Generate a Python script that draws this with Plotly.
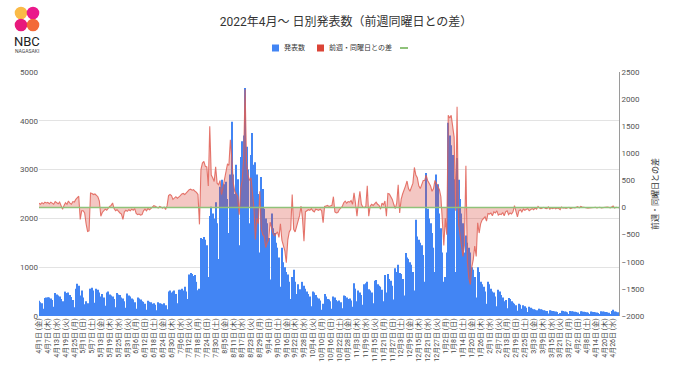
import datetime as dt
import plotly.graph_objects as go

START = dt.date(2022, 4, 1)
WEEKDAYS = ["月", "火", "水", "木", "金", "土", "日"]

# daily announced cases (発表数), by month
apr22 = [310,280,260,150,370,380,385, 380,360,330,190,470,440,420, 400,350,300,200,500,470,480, 430,390,330,180,560,660,620, 420,520]
may22 = [380,240,300,260,200,560,580, 520,270,560,540,480,400,450, 380,210,480,500,440,420,400, 350,180,470,440,430,380,360, 300,170,460]
jun22 = [420,400,360,340,280,150,380, 360,340,300,290,250,130,310, 290,280,250,260,230,120,280, 260,250,240,260,220,140,500, 520,480]
jul22 = [500,520,450,260,540,540,560, 520,600,500,350,850,880,860, 820,840,700,530,560,1600,1580, 1620,1560,1450,800,2050,2240,2100, 2000,2330,1900]
aug22 = [1170,2650,2790,2600,2700,2750,2400, 1700,2900,3980,2900,2500,3100,2800, 1450,3260,3580,3700,4670,3470,3000, 1900,3300,3750,3100,3150,2900,2500, 1300,2850,2600]
sep22 = [2200,2000,1900,1600,750,2100,1800, 1700,1500,1400,1200,600,1400,1100, 1000,900,850,700,350,800,950, 700,450,650,550,300,700,620, 560,500]
oct22 = [450,400,200,500,480,430,380, 360,320,130,250,450,400,350, 340,300,150,400,380,330,300, 320,280,160,420,410,380,350, 360,320,190]
nov22 = [670,560,300,520,480,430,230, 650,670,700,550,520,480,260, 720,740,650,620,600,540,300, 840,480,860,760,720,620,340, 980,900]
dec22 = [1050,880,860,760,420,1290,1200, 1170,1100,1050,900,520,1970,1630, 1560,1500,1450,1250,700,2930,2200, 2000,1900,1700,1400,900,2900,2700, 2100,1800,1300]
jan23 = [700,800,1300,3960,3700,3500,3300, 2800,900,3240,2790,2400,2100,1900, 1300,1650,1500,1400,1300,1000,950, 800,380,1000,900,700,650,600, 500,250,700]
feb23 = [650,560,500,480,400,200,540, 500,430,380,300,330,160,370, 350,300,270,250,220,110,250, 230,150,220,200,170,80,190]
mar23 = [170,150,140,130,120,60,150, 140,130,120,110,100,50,120, 110,100,95,90,80,40,60, 110,100,90,85,75,40,100, 95,90,85]
apr23 = [80,70,35,95,90,85,80, 75,65,30,90,85,80,75, 70,60,35,95,90,85,80, 75,65,35,100,130,90,85, 75,60]

# difference vs same weekday of previous week (前週・同曜日との差), by month
d_apr22 = [80,60,90,70,100,85,95, 70,100,80,60,110,90,70, 100,20,-30,40,90,60,120, 80,60,110,100,150,190,210, -220,-60]
d_may22 = [-60,-100,-300,-440,-430,270,260, 240,250,230,200,120,-160,-90, -60,-30,-50,-10,20,40,85, -20,-60,-40,-80,-100,-120,-220, -80,-50,-70]
d_jun22 = [-40,-60,-30,-50,-20,-110,-130, -120,-140,-130,-60,-30,-60,-20, -40,-20,10,35,25,10,-10, 20,0,-10,10,-35,30,220, 240,220]
d_jul22 = [150,180,200,170,190,220,250, 260,240,280,300,330,340,320, 330,300,280,240,-310,700,820, 850,760,750,400,1500,600,550, 480,750,450]
d_aug22 = [420,500,240,380,560,720,800, 780,1250,900,450,300,250,200, -130,350,500,900,2180,820,600, 500,550,300,0,-590,-200,-300, 300,-400,-500]
d_sep22 = [-530,-740,-650,-600,-270,-400,-480, -520,-480,-450,-550,-300,-600,-700, -800,-1015,-600,-450,-400,240,-400, -450,-350,-200,-150,25,-200,-620, -80,-60]
d_oct22 = [-40,-50,-20,-60,-80,-30,-40, -50,-30,-60,-280,20,30,40, 20,30,40,200,-80,-100,-90, -40,-10,20,90,120,80,110, 100,130,60]
d_nov22 = [270,80,-160,100,300,60,10, 0,20,400,-160,30,60,40, 80,100,60,40,-30,80,50, 120,-160,260,250,200,150,60, -20,80]
d_dec22 = [420,-100,150,250,350,400,490, 350,300,380,450,740,600,550, 400,350,450,500,500,600,500, 450,400,300,350,500,450,400, 330,200,-340]
d_jan23 = [-700,-200,-500,1700,1650,1700,1440, 1300,-60,1860,-300,-500,-800,-900, -700,770,-1000,-1300,-1420,-1100,-960, -710,-900,-280,-470,-300,-230,-200, -170,-250,-110]
d_feb23 = [-120,-100,-150,-80,-100,-60,-140, -120,-130,-90,-150,-80,-60,-130, -100,-120,-80,35,-70,-170,-60, -40,-80,-30,-50,-40,-20,-60]
d_mar23 = [-30,-20,-40,-10,-30,20,-10, -20,-10,5,-15,-20,10,-30, -10,-20,-5,-25,-10,-15,-40, 10,-10,-5,-15,-10,5,-20, -10,0,-5]
d_apr23 = [10,15,-5,20,10,5,-5, 0,-10,-5,-5,-10,0,5, -5,0,5,-5,0,-5,5, 10,5,-5,10,30,-10,5, 0,-5]

counts = apr22 + may22 + jun22 + jul22 + aug22 + sep22 + oct22 + nov22 + dec22 + jan23 + feb23 + mar23 + apr23
diffs = d_apr22 + d_may22 + d_jun22 + d_jul22 + d_aug22 + d_sep22 + d_oct22 + d_nov22 + d_dec22 + d_jan23 + d_feb23 + d_mar23 + d_apr23
zero_line = [0] * len(counts)

dates = [START + dt.timedelta(days=i) for i in range(len(counts))]
TICK_STEP = 6
tick_vals = dates[::TICK_STEP]
tick_labels = [f"{d.month}月{d.day}日 ({WEEKDAYS[d.weekday()]})" for d in tick_vals]

SERIES_NAMES = ["発表数", "前週・同曜日との差", ""]

BLUE = "#4285F4"
RED = "#DB4437"
GREEN = "#8fc27a"
FONT = "Roboto, 'Noto Sans CJK JP', sans-serif"

fig = go.Figure()
fig.add_trace(go.Bar(x=dates, y=counts, marker=dict(color=BLUE, line=dict(width=0)),
                     name=SERIES_NAMES[0], yaxis="y"))
fig.add_trace(go.Scatter(x=dates, y=diffs, mode="lines", yaxis="y2", fill="tozeroy",
                         line=dict(color="rgba(224,95,85,0.85)", width=1.1),
                         fillcolor="rgba(219,68,55,0.3)", name=SERIES_NAMES[1]))
fig.add_trace(go.Scatter(x=dates, y=zero_line, mode="lines", yaxis="y2", name=SERIES_NAMES[2],
                         line=dict(color=GREEN, width=1.5), hoverinfo="skip"))

# plot area in pixels
L, R, T, B = 39, 619, 72, 316
W, H = 680, 382
def px(xp):
    return (xp - L) / (R - L)
def py(yp):
    return (B - yp) / (B - T)

shapes = []
logo = [(21, 13, "rgba(249,178,51,0.9)"), (33, 13, "rgba(232,0,126,0.9)"),
        (21, 25, "rgba(230,0,110,0.9)"), (33, 25, "rgba(242,90,36,0.9)")]
r = 6.3
for cx, cy, col in logo:
    shapes.append(dict(type="circle", xref="paper", yref="paper",
                       x0=px(cx - r), x1=px(cx + r), y0=py(cy + r), y1=py(cy - r),
                       fillcolor=col, line=dict(width=0), layer="above"))

annotations = [
    dict(text="NBC", x=px(27), y=py(42), xref="paper", yref="paper", showarrow=False,
         font=dict(family=FONT, size=13, color="#222"), xanchor="center", yanchor="middle"),
    dict(text="NAGASAKI", x=px(27), y=py(51), xref="paper", yref="paper", showarrow=False,
         font=dict(family=FONT, size=5, color="#444"), xanchor="center", yanchor="middle"),
]

# hand-built legend (squares + short line), positioned like the reference
LEG_Y = 48
leg_items = [(272, BLUE, SERIES_NAMES[0], "square"), (317, RED, SERIES_NAMES[1], "square"),
             (400, GREEN, SERIES_NAMES[2], "line")]
for x0, col, name, kind in leg_items:
    if kind == "square":
        shapes.append(dict(type="rect", xref="paper", yref="paper",
                           x0=px(x0), x1=px(x0 + 7), y0=py(LEG_Y + 3.5), y1=py(LEG_Y - 3.5),
                           fillcolor=col, line=dict(width=0)))
        annotations.append(dict(text=name, x=px(x0 + 10), y=py(LEG_Y), xref="paper", yref="paper",
                                showarrow=False, xanchor="left", yanchor="middle",
                                font=dict(family=FONT, size=7, color="#333")))
    else:
        shapes.append(dict(type="line", xref="paper", yref="paper",
                           x0=px(x0), x1=px(x0 + 8), y0=py(LEG_Y), y1=py(LEG_Y),
                           line=dict(color=col, width=2)))

fig.update_layout(
    width=W, height=H,
    margin=dict(l=L, r=W - R, t=T, b=H - B, pad=0),
    paper_bgcolor="white", plot_bgcolor="white",
    font=dict(family=FONT, color="#444", size=8),
    title=dict(text="2022年4月～ 日別発表数（前週同曜日との差）", x=px(346), xref="paper",
               xanchor="center", y=1 - 22 / H, yanchor="middle",
               font=dict(family=FONT, size=12, color="#333")),
    bargap=0.28,
    showlegend=False,
    xaxis=dict(type="date", range=[dates[0] - dt.timedelta(hours=12), dates[-1] + dt.timedelta(hours=12)],
               tickmode="array", tickvals=tick_vals, ticktext=tick_labels, tickangle=-90,
               tickfont=dict(size=7, color="#444"), showgrid=False, zeroline=False,
               showline=False, ticks="", automargin=False),
    yaxis=dict(range=[0, 5000], dtick=1000, showgrid=True, gridcolor="#e3e3e3", gridwidth=1,
               zeroline=False, showline=False, ticks="", tickfont=dict(size=8, color="#555"),
               automargin=False),
    yaxis2=dict(range=[-2000, 2500], dtick=500, overlaying="y", side="right", showgrid=False,
                zeroline=False, showline=True, linecolor="#9a9a9a", linewidth=1, ticks="",
                tickfont=dict(size=8, color="#555"), automargin=False,
                title=dict(text="前週・同曜日との差", font=dict(size=8, color="#333"), standoff=8)),
    shapes=shapes, annotations=annotations,
)

fig.write_html("out.html", config={"displayModeBar": False},
               post_script="document.body.style.margin='0';document.body.style.padding='0';")
